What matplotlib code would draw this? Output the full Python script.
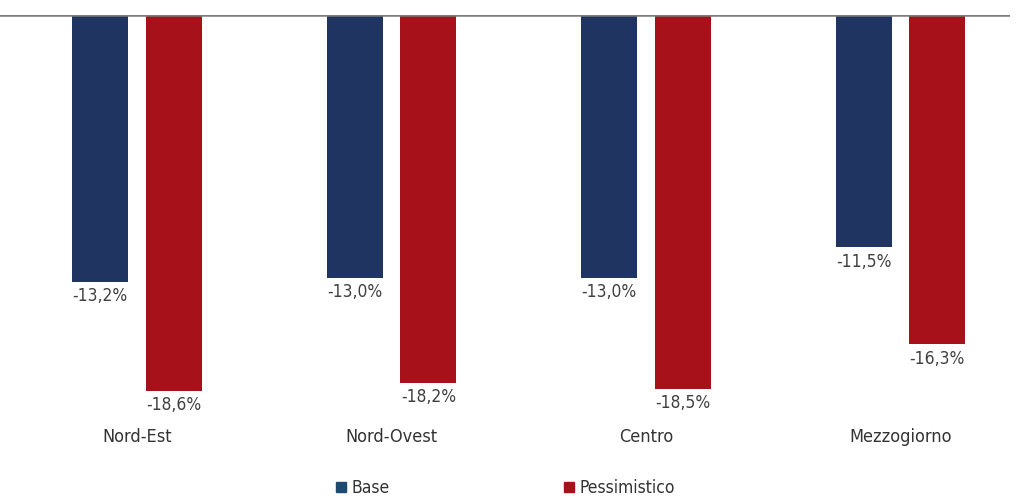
import matplotlib
matplotlib.use('Agg')
import matplotlib.pyplot as plt
from matplotlib.lines import Line2D
import numpy as np

plt.rcParams['font.family'] = ['DejaVu Sans']
plt.rcParams['font.stretch'] = 'condensed'

categories = ['Nord-Est', 'Nord-Ovest', 'Centro', 'Mezzogiorno']
base = [-13.2, -13.0, -13.0, -11.5]
pessimistico = [-18.6, -18.2, -18.5, -16.3]
series_names = ['Base', 'Pessimistico']

col_base = '#1f3461'
col_pess = '#a6111a'
txt_col = '#404040'

W, H = 1017, 496
fig = plt.figure(figsize=(W / 100, H / 100), dpi=100)
ax = fig.add_axes([0, 1 - 420 / H, 1010 / W, (420 - 15) / H])

x = np.arange(len(categories))
w = 0.22
off = 0.145
b1 = ax.bar(x - off, base, w, color=col_base)
b2 = ax.bar(x + off, pessimistico, w, color=col_pess)

for bars, vals in ((b1, base), (b2, pessimistico)):
    for r, v in zip(bars, vals):
        ax.annotate(f'{v:.1f}%'.replace('.', ','),
                    (r.get_x() + r.get_width() / 2, v),
                    xytext=(0, -4), textcoords='offset points',
                    ha='center', va='top', fontsize=12.5, color=txt_col)

ax.set_xlim(-137 / 254.5, (1010 - 137) / 254.5)
ax.set_ylim(-(420 - 15) / 20.2, 0)
ax.axhline(0, color='#7a7a7a', lw=1.8)

for s in ax.spines.values():
    s.set_visible(False)
ax.set_yticks([])
ax.set_xticks(x)
ax.set_xticklabels(categories, fontsize=13, color='#333333')
ax.tick_params(axis='x', length=0, pad=6)

handles = [Line2D([], [], marker='s', ls='', color=c, markersize=7)
           for c in ('#1f4a70', col_pess)]
fig.legend(handles, series_names, loc='center', bbox_to_anchor=(0.497, 1 - 488 / H),
           ncol=2, frameon=False, fontsize=12.5, handlelength=0.6, handletextpad=0.3,
           columnspacing=10.0, labelcolor='#333333')

fig.savefig('out.png', dpi=100)
